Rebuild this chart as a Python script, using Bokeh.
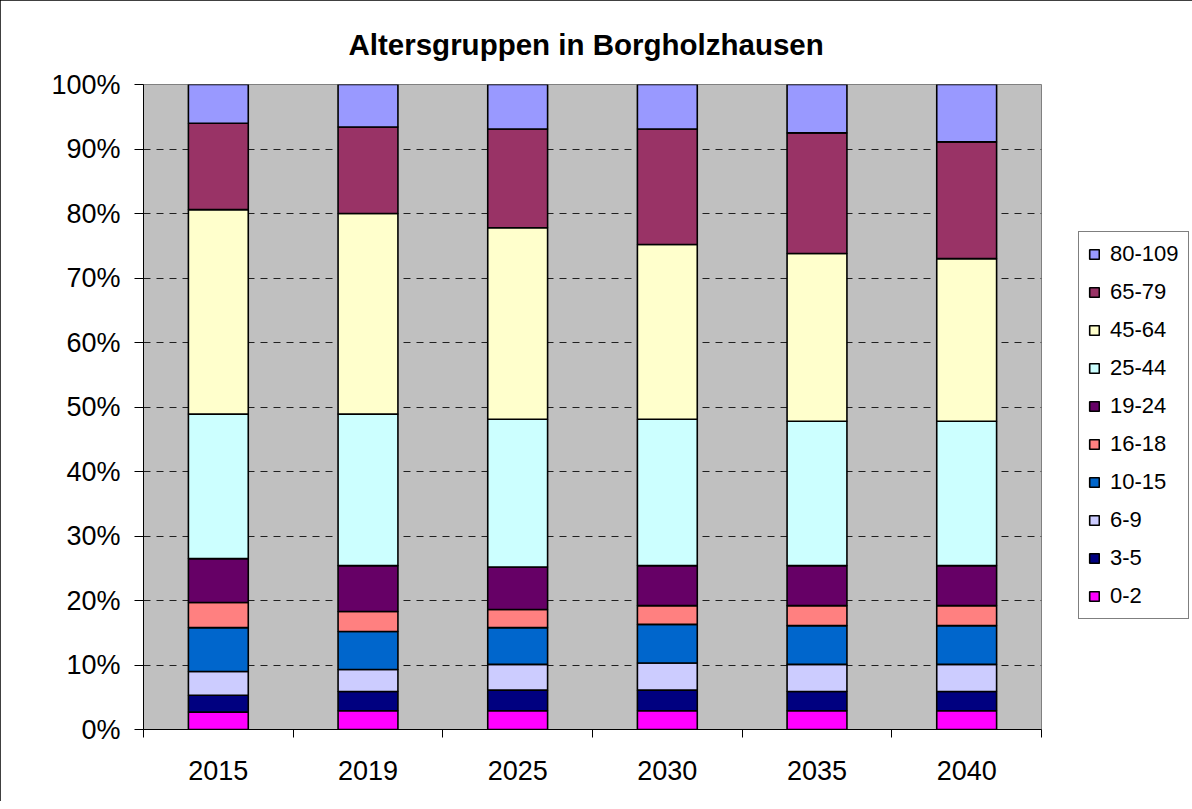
from bokeh.plotting import figure
from bokeh.models import ColumnDataSource, Range1d, FixedTicker, PrintfTickFormatter, Legend, LegendItem
from bokeh.embed import file_html
from bokeh.resources import INLINE

years = ["2015", "2019", "2025", "2030", "2035", "2040"]
groups = ["0-2", "3-5", "6-9", "10-15", "16-18", "19-24", "25-44", "45-64", "65-79", "80-109"]

g_0_2 = [2.7, 2.9, 2.9, 2.9, 2.9, 2.9]
g_3_5 = [2.6, 3.0, 3.2, 3.2, 3.0, 3.0]
g_6_9 = [3.7, 3.4, 4.0, 4.2, 4.2, 4.2]
g_10_15 = [6.8, 5.9, 5.7, 6.0, 6.0, 6.0]
g_16_18 = [3.9, 3.1, 2.8, 2.9, 3.1, 3.1]
g_19_24 = [6.8, 7.1, 6.6, 6.2, 6.2, 6.2]
g_25_44 = [22.4, 23.5, 22.9, 22.7, 22.4, 22.4]
g_45_64 = [31.7, 31.1, 29.7, 27.1, 26.0, 25.2]
g_65_79 = [13.4, 13.4, 15.3, 17.9, 18.7, 18.1]
g_80_109 = [6.0, 6.6, 6.9, 6.9, 7.5, 8.9]

colors = ["#FF00FF", "#000080", "#CCCCFF", "#0066CC", "#FF8080",
          "#660066", "#CCFFFF", "#FFFFCC", "#993366", "#9999FF"]

series = [g_0_2, g_3_5, g_6_9, g_10_15, g_16_18, g_19_24, g_25_44, g_45_64, g_65_79, g_80_109]
totals = [sum(s[i] for s in series) for i in range(len(years))]

data = {"x": [i + 0.5 for i in range(len(years))]}
for g, s in zip(groups, series):
    data[g] = [100.0 * v / t for v, t in zip(s, totals)]
source = ColumnDataSource(data)

FONT = "Liberation Sans"

p = figure(frame_width=898, frame_height=645, output_backend="svg", toolbar_location=None,
           x_range=Range1d(0, len(years)), y_range=Range1d(0, 100),
           min_border_left=143, min_border_right=143, min_border_top=84, min_border_bottom=72)
p.styles = {"outline": "1px solid black", "outline-offset": "-1px"}

p.title.text = "Altersgruppen in Borgholzhausen"
p.title.align = "left"
p.title.text_font = FONT
p.title.text_font_size = "29.5px"
p.title.text_font_style = "bold"
p.title.text_color = "black"
p.title.standoff = 48
p.title.offset = 205

p.background_fill_color = "#C0C0C0"
p.border_fill_color = "white"
p.outline_line_color = "#808080"
p.outline_line_width = 1

renderers = p.vbar_stack(groups, x="x", width=0.4, source=source, color=colors,
                         line_color="black", line_width=1.6)

# grid
p.xgrid.visible = False
p.ygrid.ticker = FixedTicker(ticks=[10, 20, 30, 40, 50, 60, 70, 80, 90])
p.ygrid.grid_line_color = "#202020"
p.ygrid.grid_line_dash = "7 6"
p.ygrid.grid_line_width = 1

# y axis
p.yaxis.ticker = FixedTicker(ticks=list(range(0, 101, 10)))
p.yaxis.formatter = PrintfTickFormatter(format="%d%%")
p.yaxis.axis_line_color = "black"
p.yaxis.major_tick_line_color = "black"
p.yaxis.major_tick_out = 9
p.yaxis.major_tick_in = 0
p.yaxis.minor_tick_line_color = None
p.yaxis.major_label_text_font = FONT
p.yaxis.major_label_text_font_size = "27px"
p.yaxis.major_label_text_color = "black"
p.yaxis.major_label_standoff = 14

# x axis
p.xaxis.ticker = FixedTicker(ticks=[i + 0.5 for i in range(len(years))],
                             minor_ticks=list(range(len(years) + 1)))
p.xaxis.major_label_overrides = {i + 0.5: y for i, y in enumerate(years)}
p.xaxis.axis_line_color = "black"
p.xaxis.major_tick_line_color = None
p.xaxis.minor_tick_line_color = "black"
p.xaxis.minor_tick_out = 8
p.xaxis.minor_tick_in = 0
p.xaxis.major_label_text_font = FONT
p.xaxis.major_label_text_font_size = "27px"
p.xaxis.major_label_text_color = "black"
p.xaxis.major_label_standoff = 23

items = [LegendItem(label=g, renderers=[r]) for g, r in zip(groups, renderers)][::-1]
legend = Legend(items=items, location=(37, 110))
legend.label_text_font = FONT
legend.label_text_font_size = "22px"
legend.label_text_color = "black"
legend.glyph_width = 12
legend.glyph_height = 12
legend.label_standoff = 10
legend.label_height = 26
legend.spacing = 12
legend.padding = 9
legend.margin = 0
legend.border_line_color = "black"
legend.border_line_width = 1
legend.background_fill_color = "white"
legend.background_fill_alpha = 1
p.add_layout(legend, "right")

open("out.html", "w").write(file_html(p, INLINE))
